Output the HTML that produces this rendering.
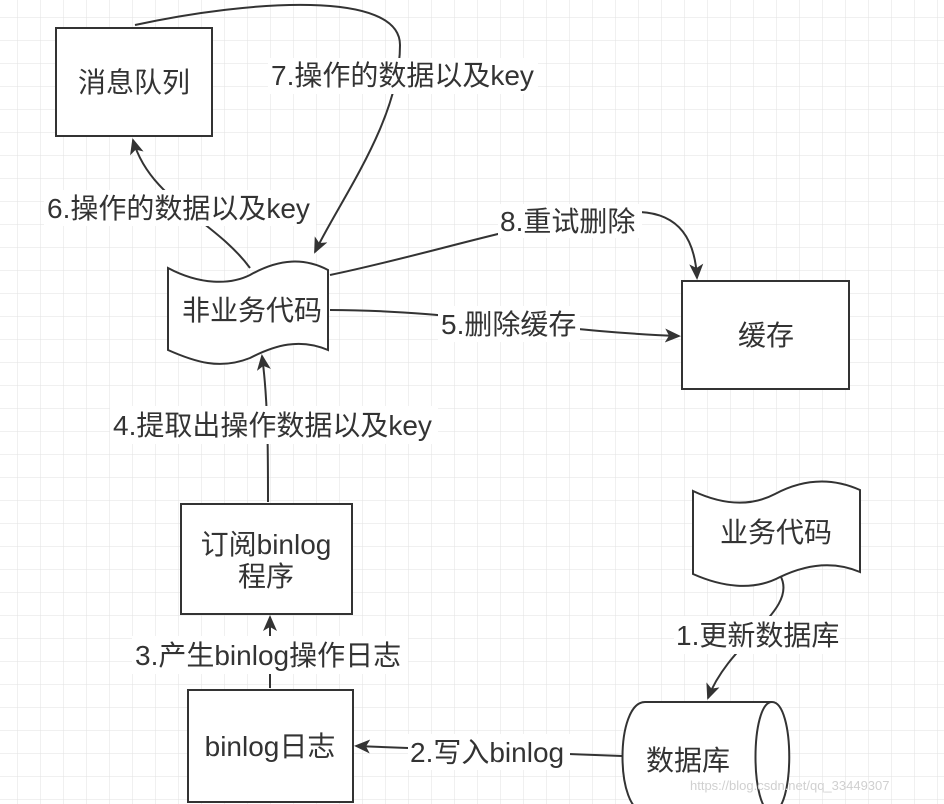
<!DOCTYPE html>
<html><head><meta charset="utf-8"><style>
html,body{margin:0;padding:0;background:#fff;}
svg{display:block;}
text{font-family:"Liberation Sans","Noto Sans CJK SC",sans-serif;fill:#333;}
</style></head><body>
<svg width="944" height="804" xmlns="http://www.w3.org/2000/svg">
<defs>
<pattern id="g" width="23" height="23" patternUnits="userSpaceOnUse" x="-5" y="-5">
<path d="M23 0V23M0 23H23" fill="none" stroke="#e2e2e2" stroke-width="1"/>
</pattern>
<marker id="a" markerWidth="16" markerHeight="16" refX="14" refY="7" orient="auto" markerUnits="userSpaceOnUse" viewBox="0 0 16 14">
<path d="M0,0 L16,7 L0,14 L4,7 Z" fill="#333"/>
</marker>
</defs>
<rect width="944" height="804" fill="url(#g)"/>
<g fill="none" stroke="#333" stroke-width="2">
<path d="M135 25 C 250 0, 400 -10, 400 45 C 400 120, 340 200, 315 252" marker-end="url(#a)"/>
<path d="M250 268 C 215 220, 150 200, 133 140" marker-end="url(#a)"/>
<path d="M330 275 C 450 250, 560 210, 640 212 C 680 214, 695 240, 697 278" marker-end="url(#a)"/>
<path d="M330 310 C 450 310, 560 332, 679 336" marker-end="url(#a)"/>
<path d="M268 502 C 268 450, 268 400, 262 356" marker-end="url(#a)"/>
<path d="M270 688 L270 617" marker-end="url(#a)"/>
<path d="M622 756 L356 746" marker-end="url(#a)"/>
<path d="M780 575 C 800 610, 730 640, 708 698" marker-end="url(#a)"/>
</g>
<g fill="#fff" stroke="#333" stroke-width="2">
<rect x="56" y="28" width="156" height="108"/>
<rect x="682" y="281" width="167" height="108"/>
<rect x="181" y="504" width="171" height="110"/>
<rect x="188" y="690" width="165" height="112"/>
<path d="M168 268 C 200 285, 230 285, 250 275 C 280 258, 305 258, 328 270 L328 350 C 300 338, 275 345, 250 358 C 220 370, 195 362, 168 350 Z"/>
<path d="M693 491 C 725 506, 752 506, 775 494 C 805 478, 833 478, 860 490 L860 572 C 832 560, 805 565, 780 577 C 752 592, 720 586, 693 574 Z"/>
<path d="M645 702 L772 702 C 795 702, 795 812, 772 812 L645 812 C 615 812, 615 702, 645 702 Z"/>
<path d="M772 702 C 750 702, 750 812, 772 812" fill="none"/>
</g>
<g font-size="28" text-anchor="middle">
<text x="134" y="92">消息队列</text>
<text x="252" y="320">非业务代码</text>
<text x="766" y="345">缓存</text>
<text x="266" y="554">订阅binlog</text>
<text x="266" y="586">程序</text>
<text x="270" y="756">binlog日志</text>
<text x="776" y="542">业务代码</text>
<text x="688" y="770">数据库</text>
</g>
<g font-size="28">
<rect x="268" y="58" width="270" height="36" fill="#fff"/>
<text x="271" y="85">7.操作的数据以及key</text>
<rect x="44" y="190" width="272" height="36" fill="#fff"/>
<text x="47" y="218">6.操作的数据以及key</text>
<rect x="498" y="204" width="144" height="34" fill="#fff"/>
<text x="500" y="231">8.重试删除</text>
<rect x="438" y="306" width="142" height="36" fill="#fff"/>
<text x="441" y="334">5.删除缓存</text>
<rect x="110" y="406" width="328" height="38" fill="#fff"/>
<text x="113" y="435">4.提取出操作数据以及key</text>
<rect x="132" y="636" width="276" height="38" fill="#fff"/>
<text x="135" y="665">3.产生binlog操作日志</text>
<rect x="674" y="616" width="166" height="38" fill="#fff"/>
<text x="676" y="645">1.更新数据库</text>
<rect x="408" y="734" width="162" height="36" fill="#fff"/>
<text x="410" y="762">2.写入binlog</text>
</g>
<text x="690" y="790" font-size="13" style="fill:#d0d0d0">https://blog.csdn.net/qq_33449307</text>
</svg>
</body></html>
